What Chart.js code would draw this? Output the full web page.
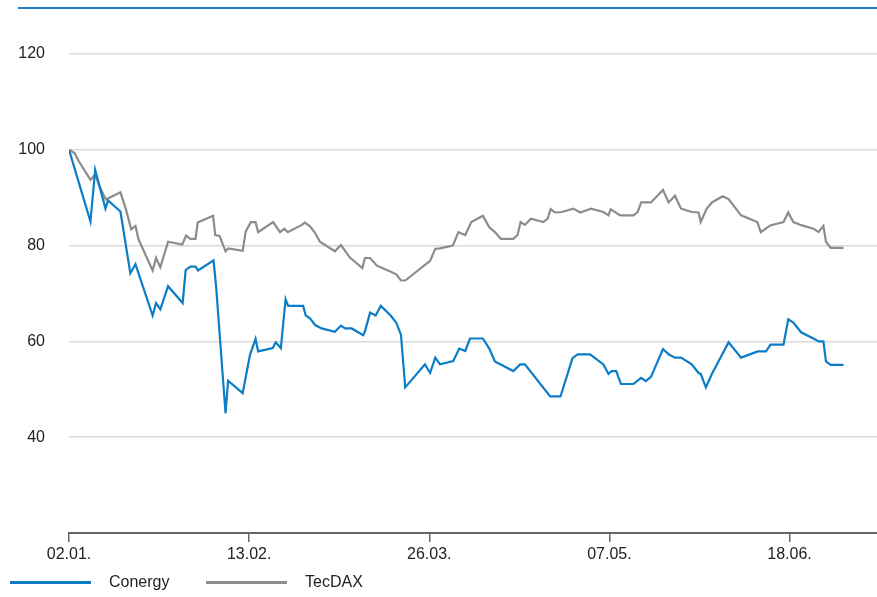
<!DOCTYPE html>
<html>
<head>
<meta charset="utf-8">
<title>Conergy vs TecDAX</title>
<script src="https://cdn.jsdelivr.net/npm/chart.js@4"></script>
<style>
  body { margin: 0; background: #fff; font-family: "Liberation Sans", Arial, sans-serif; }
  #wrap { position: relative; width: 877px; height: 597px; }
  #topline { position: absolute; left: 18px; right: 0; top: 7px; border-top: 2px solid #1a80cc; }
  .key { position: absolute; top: 581px; height: 3px; width: 81px; }
  .keytext { position: absolute; top: 571px; font-size: 16px; line-height: 22px; color: #222; }
</style>
</head>
<body>
<div id="wrap">
  <canvas id="chart" width="877" height="597"></canvas>
  <div id="topline"></div>
  <div class="key" style="left:10px;background:#0a7cc8"></div>
  <span class="keytext" style="left:109px">Conergy</span>
  <div class="key" style="left:206px;background:#8c8c8c"></div>
  <span class="keytext" style="left:305px">TecDAX</span>
</div>
<script>
// days counted from 02.01., values indexed to 100
const conergyDays = [0, 2.1, 5, 6.1, 8.5, 9.1, 12, 14.3, 15.5, 19.5, 20.3, 21.3, 23.1, 26.5, 27.2, 28.3, 29.5, 30.1, 33.7, 34.3, 36.5,
  37.1, 40.5, 42.2, 43.5, 44.1, 47.5, 48.2, 49.4, 50.5, 51.1, 54.6, 55.2, 56.2, 57.4, 58.9, 62, 63.4, 64.4, 65.9, 68.6, 69,
  70.2, 71.5, 72.7, 75, 76.3, 77.4, 78.4, 83, 84.2, 85.4, 86.5, 89.6, 91, 92.4, 93.5, 96.5, 98, 99.3, 103.6, 105.2, 106.3,
  112.2, 114.6, 117.4, 118.6, 121.5, 124.6, 125.8, 126.5, 127.6, 128.7, 131.6, 133.4, 134.5, 135.7, 138.5, 139.8, 141.3,
  142.7, 145.2, 146.8, 147.3, 148.5, 149.9, 153.8, 156.7, 160.6, 162.5, 163.6, 166.6, 167.7, 168.9, 170.7, 173.8, 174.8,
  175.9, 176.5, 177.6, 180.6];
const conergyValues = [100, 93.7, 85.0, 95.8, 87.7, 89.4, 87.1, 74.2, 76.1, 65.4, 68.0, 66.7, 71.5, 68.0, 74.9, 75.6, 75.6, 74.8, 76.9, 71.5, 45.0,
  51.8, 49.2, 57.2, 60.5, 57.9, 58.6, 59.8, 58.6, 68.8, 67.4, 67.4, 65.4, 64.8, 63.4, 62.7, 62.0, 63.3, 62.7, 62.7, 61.3, 62.1,
  66.0, 65.4, 67.4, 65.4, 63.9, 61.4, 50.4, 55.2, 53.4, 56.6, 55.2, 55.9, 58.5, 58.0, 60.6, 60.6, 58.5, 55.8, 53.8, 55.2, 55.2,
  48.5, 48.5, 56.5, 57.3, 57.3, 55.2, 53.2, 53.8, 53.8, 51.1, 51.1, 52.4, 51.7, 52.6, 58.4, 57.3, 56.6,
  56.6, 55.2, 53.4, 53.2, 50.4, 53.2, 59.8, 56.6, 57.9, 57.9, 59.3, 59.3, 64.6, 63.9, 61.9, 60.5, 60.0,
  60.0, 55.8, 55.1, 55.1];

const tecdaxDays = [0, 1.3, 2.3, 5, 6.1, 7.3, 8.6, 12, 13.3, 14.5, 15.5, 16.2, 19.5, 20.3, 21.3, 23.1, 26.4, 27.3, 28.3, 29.5, 30,
  33.6, 34.1, 35.1, 36.5, 37.1, 40.5, 41.2, 42.4, 43.5, 44.1, 47.6, 49.2, 50.2, 51, 54.3, 55, 56.2, 57.4, 58.5, 62, 63.4,
  65.5, 68.4, 69, 70.2, 71.8, 74.9, 76.3, 77.4, 78.4, 84.2, 85.4, 86.5, 89.5, 90.8, 92.4, 93.8, 96.5, 98, 99.3, 100.7,
  103.6, 104.6, 105.3, 106.3, 107.7, 110.6, 111.6, 112.3, 113.3, 114.9, 117.6, 119.2, 121.7, 124.6, 125.8, 126.3, 128.5,
  131.6, 132.6, 133.4, 135.7, 138.5, 139.8, 141.3, 142.7, 145.2, 146.8, 147.3, 148.7, 149.9, 152.4, 153.8, 156.7, 160.5,
  161.3, 163.5, 166.6, 167.7, 168.9, 170.9, 173.6, 174.8, 175.9, 176.5, 177.6, 180.6];
const tecdaxValues = [100, 99.3, 97.6, 93.7, 94.8, 92.0, 89.6, 91.1, 87.5, 83.4, 84.1, 81.3, 74.8, 77.4, 75.5, 80.8, 80.2, 82.1, 81.4, 81.4, 84.8,
  86.2, 82.2, 82.0, 78.8, 79.4, 78.9, 82.9, 84.9, 84.9, 82.8, 84.9, 82.8, 83.5, 82.8, 84.3, 84.8, 84.0, 82.6, 80.8, 78.8, 80.1,
  77.5, 75.3, 77.4, 77.4, 75.8, 74.6, 74.0, 72.7, 72.7, 76.8, 79.3, 79.4, 80.0, 82.8, 82.2, 84.9, 86.2, 83.8, 82.8, 81.4,
  81.4, 82.2, 84.9, 84.3, 85.6, 84.9, 85.6, 87.6, 86.9, 87.0, 87.7, 86.9, 87.7, 87.0, 86.3, 87.6, 86.3,
  86.3, 87.0, 89.0, 89.0, 91.6, 89.0, 90.4, 87.7, 87.0, 86.9, 84.9, 87.7, 89.0, 90.3, 89.7, 86.3, 84.9,
  82.8, 84.2, 84.9, 86.9, 84.9, 84.2, 83.5, 82.8, 84.1, 80.8, 79.5, 79.5];

const xTickDays = [0, 42, 84, 126, 168];
const xTickLabels = ['02.01.', '13.02.', '26.03.', '07.05.', '18.06.'];
const yTicks = [40, 60, 80, 100, 120];

const toPoints = (days, values) => days.map((d, i) => ({ x: d, y: values[i] }));

const font = { family: '"Liberation Sans", Arial, sans-serif', size: 16, lineHeight: 1 };

new Chart(document.getElementById('chart'), {
  type: 'line',
  data: {
    datasets: [
      { label: 'Conergy', data: toPoints(conergyDays, conergyValues), borderColor: '#0a7cc8', borderWidth: 2.2, pointRadius: 0, tension: 0 },
      { label: 'TecDAX', data: toPoints(tecdaxDays, tecdaxValues), borderColor: '#8c8c8c', borderWidth: 2.2, pointRadius: 0, tension: 0 }
    ]
  },
  options: {
    responsive: false,
    animation: false,
    layout: { padding: { top: 6, left: 0, right: 0, bottom: 0 } },
    plugins: { legend: { display: false }, tooltip: { enabled: false } },
    scales: {
      x: {
        type: 'linear',
        min: 0,
        max: 188.4,
        afterBuildTicks: (axis) => { axis.ticks = xTickDays.map((v) => ({ value: v })); },
        afterFit: (axis) => { axis.height = 64; },
        ticks: {
          color: '#222',
          font: font,
          padding: 5,
          maxRotation: 0,
          autoSkip: false,
          callback: (value) => xTickLabels[xTickDays.indexOf(value)]
        },
        grid: { drawOnChartArea: false, drawTicks: true, tickLength: 9, color: '#666', lineWidth: 1.5 },
        border: { display: true, color: '#666', width: 2 }
      },
      y: {
        min: 20,
        max: 130,
        afterBuildTicks: (axis) => { axis.ticks = yTicks.map((v) => ({ value: v })); },
        afterFit: (axis) => { axis.width = 69; },
        ticks: { color: '#222', font: font, padding: -3 },
        grid: { color: '#d9d9d9', lineWidth: 1.5, drawTicks: true, tickLength: 27, tickColor: 'rgba(0,0,0,0)' },
        border: { display: false }
      }
    }
  }
});
</script>
</body>
</html>
